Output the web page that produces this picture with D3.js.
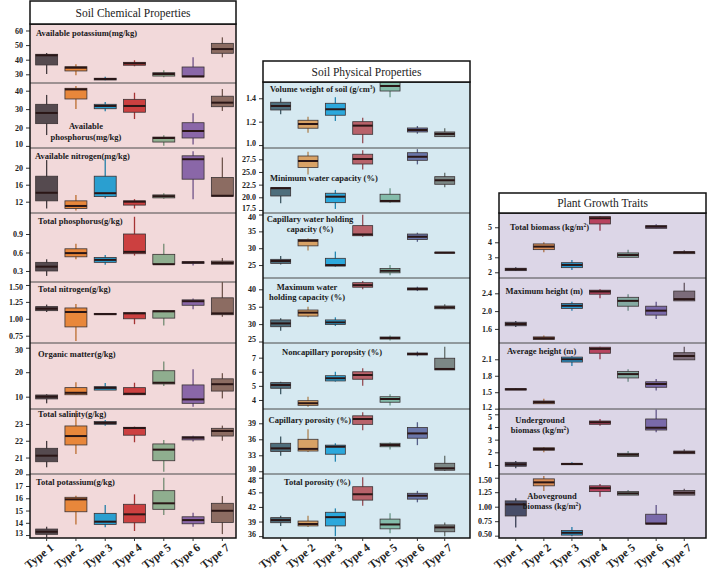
<!DOCTYPE html>
<html>
<head>
<meta charset="utf-8">
<script src="https://cdn.jsdelivr.net/npm/d3@7"></script>
<style>
body { margin: 0; background: #fff; }
svg { display: block; }
text { font-family: "Liberation Serif", "Times New Roman", serif; }
</style>
</head>
<body>
<div id="chart"></div>
<script>
const types = ["Type 1", "Type 2", "Type 3", "Type 4", "Type 5", "Type 6", "Type 7"];

// each entry: [whisker low, q1, median, q3, whisker high]
// soil chemical properties
const availableK = [[30.2,36.4,43.0,43.7,44.6],[29.3,32.3,34.5,35.2,36.8],[25.9,26.1,26.8,27.3,28.4],[35.5,36.2,37.5,38.2,39.6],[28.0,28.8,30.2,31.1,32.7],[28.2,28.2,28.6,35.0,41.6],[41.6,44.4,47.3,51.2,55.3]];
const availableP = [[15.9,22.1,27.9,32.6,37.7],[30.0,35.5,40.7,41.3,42.6],[28.8,30.2,31.7,32.6,33.9],[24.6,28.3,31.7,35.3,38.9],[10.1,12.1,14.3,14.8,15.8],[10.7,14.3,18.1,22.6,27.7],[29.0,31.3,33.5,37.0,40.9]];
const availableN = [[10.4,12.2,14.1,18.0,21.8],[9.9,10.4,11.0,12.2,13.6],[12.8,13.2,14.0,18.0,22.2],[10.4,11.2,12.0,12.2,12.6],[12.7,12.9,13.3,13.6,14.0],[12.6,17.3,22.0,22.8,23.9],[13.3,13.3,13.4,17.7,22.4]];
const totalP = [[0.22,0.30,0.37,0.44,0.49],[0.49,0.53,0.59,0.66,0.74],[0.40,0.44,0.48,0.52,0.56],[0.55,0.58,0.61,0.90,1.18],[0.41,0.41,0.41,0.57,0.74],[0.39,0.42,0.44,0.45,0.46],[0.41,0.41,0.43,0.46,0.51]];
const totalN = [[1.10,1.12,1.15,1.18,1.21],[0.67,0.88,1.10,1.16,1.22],[1.06,1.06,1.07,1.08,1.08],[0.92,1.00,1.08,1.09,1.10],[0.90,1.01,1.11,1.12,1.13],[1.14,1.20,1.26,1.28,1.30],[1.03,1.06,1.08,1.31,1.55]];
const organicMatter = [[7.3,9.1,10.0,10.7,11.0],[10.7,10.8,11.6,13.7,15.9],[12.7,12.7,13.6,14.1,15.6],[10.7,10.8,11.2,13.7,15.7],[14.4,15.2,15.7,20.6,24.4],[5.9,7.3,8.9,14.8,21.2],[9.3,12.3,15.1,17.3,19.6]];
const totalSalinity = [[20.42,20.75,21.11,21.55,21.99],[21.21,21.75,22.28,22.88,23.8],[22.9,22.98,23.06,23.14,23.24],[21.91,22.33,22.76,22.8,22.84],[20.16,20.81,21.47,21.81,22.05],[21.95,22.05,22.18,22.24,22.3],[22.0,22.28,22.58,22.74,22.9]];
const totalK = [[12.81,13.06,13.27,13.49,13.68],[13.87,14.9,15.91,16.08,16.21],[13.63,13.87,14.09,14.77,15.45],[13.33,14.0,14.69,15.51,16.32],[14.63,15.1,15.59,16.62,17.68],[13.68,13.92,14.22,14.49,14.82],[13.08,14.03,14.98,15.59,16.18]];

// soil physical properties
const volumeWeight = [[1.263,1.30,1.334,1.366,1.40],[1.106,1.144,1.18,1.212,1.243],[1.206,1.255,1.306,1.357,1.409],[1.015,1.092,1.166,1.20,1.234],[1.409,1.462,1.505,1.56,1.60],[1.097,1.112,1.129,1.146,1.163],[1.072,1.072,1.095,1.112,1.144]];
const minWater = [[18.8,20.26,21.8,21.9,21.9],[24.5,25.9,27.16,28.15,29.0],[17.7,18.94,20.12,20.8,21.45],[25.5,26.57,27.56,28.5,29.3],[18.94,19.08,19.28,20.6,21.8],[26.5,27.3,28.0,28.8,29.5],[21.98,22.57,23.36,24.07,24.86]];
const capWater = [[25.2,25.5,26.2,26.7,27.7],[29.3,30.7,32.2,32.6,32.9],[24.5,24.7,25.0,27.0,29.0],[33.4,33.7,34.1,36.7,39.9],[22.0,22.7,23.3,24.0,25.0],[31.9,32.6,33.4,34.2,34.6],[28.5,28.6,28.7,28.8,28.9]];
const maxWater = [[28.1,29.25,30.2,31.2,31.7],[31.95,32.3,33.3,34.05,35.0],[29.45,29.9,30.5,31.2,31.95],[40.0,40.6,41.2,41.9,42.4],[25.3,25.7,26.0,26.3,26.7],[39.5,39.8,40.1,40.4,40.75],[34.25,34.4,34.8,35.2,35.7]];
const noncapPorosity = [[4.4,4.83,5.06,5.23,5.3],[3.52,3.62,3.77,3.95,4.23],[5.3,5.35,5.54,5.72,6.0],[5.01,5.47,5.77,6.0,6.25],[3.6,3.84,4.07,4.23,4.4],[7.1,7.19,7.26,7.33,7.43],[6.13,6.13,6.2,6.96,7.78]];
const capPorosity = [[32.9,33.7,34.3,35.25,36.5],[33.6,33.8,34.2,36.0,37.9],[31.8,33.2,34.6,34.9,35.25],[37.7,38.8,39.8,40.4,41.06],[34.1,34.6,34.93,35.25,35.4],[34.9,36.2,37.1,38.2,39.2],[30.05,30.2,30.56,31.5,32.9]];
const totalPorosity = [[38.1,38.76,39.3,39.8,40.2],[37.9,38.1,38.5,39.1,40.2],[36.0,38.1,39.9,40.9,41.7],[42.25,43.4,44.6,46.15,48.1],[36.6,37.5,38.4,39.5,40.7],[42.95,43.6,44.3,44.8,45.3],[36.0,36.9,37.8,38.3,38.8]];

// plant growth traits
const totalBiomass = [[2.09,2.11,2.2,2.27,2.33],[3.33,3.51,3.71,3.89,4.0],[2.15,2.31,2.49,2.64,2.82],[4.77,5.22,5.6,5.71,5.75],[3.0,3.0,3.15,3.29,3.51],[4.93,4.93,5.04,5.11,5.2],[3.24,3.24,3.33,3.37,3.47]];
const maxHeight = [[1.64,1.67,1.71,1.75,1.78],[1.36,1.36,1.39,1.42,1.45],[2.01,2.06,2.12,2.17,2.21],[2.29,2.38,2.44,2.47,2.49],[2.01,2.11,2.23,2.31,2.38],[1.82,1.91,2.01,2.11,2.21],[2.23,2.23,2.27,2.45,2.64]];
const avgHeight = [[1.54,1.54,1.553,1.565,1.57],[1.29,1.29,1.32,1.34,1.38],[1.98,2.05,2.10,2.14,2.16],[2.10,2.21,2.29,2.32,2.33],[1.69,1.76,1.83,1.88,1.92],[1.53,1.59,1.65,1.69,1.74],[2.09,2.09,2.16,2.22,2.33]];
const undergroundBiomass = [[0.74,0.9,1.05,1.21,1.31],[2.0,2.16,2.26,2.36,2.42],[1.02,1.02,1.08,1.13,1.21],[4.1,4.21,4.37,4.47,4.63],[1.68,1.68,1.81,1.92,2.1],[3.58,3.76,3.94,4.63,5.38],[1.89,1.89,2.0,2.1,2.24]];
const abovegroundBiomass = [[0.64,0.84,1.04,1.10,1.145],[1.27,1.36,1.42,1.48,1.53],[0.49,0.51,0.55,0.59,0.65],[1.17,1.26,1.32,1.36,1.39],[1.20,1.20,1.23,1.26,1.29],[0.70,0.70,0.71,0.87,1.03],[1.20,1.20,1.24,1.28,1.31]];

const chemColors = ["#554a4f", "#e8873b", "#2a9fd0", "#cc4040", "#8fae8f", "#8a67a8", "#8c6c62"];
const physColors = ["#4e6e7c", "#d8a266", "#2ca8dc", "#b8626a", "#84bcaa", "#6a76aa", "#7c8886"];
const plantColors = ["#474d68", "#d88c56", "#2a9ad2", "#b84460", "#84aaa2", "#7a6aaa", "#7c6c7a"];

const width = 708, height = 573, bottom = 538;

const svg = d3.select("#chart").append("svg")
    .attr("width", width)
    .attr("height", height);

const panels = [
  { title: "Soil Chemical Properties", left: 30, right: 236, top: 1, head: 24, bg: "#f2d9da",
    colors: chemColors, xr: [32, 237], bw: 0.75,
    rows: [
      { data: availableK, y: [24, 83], dom: [24.04, 64.45], ticks: [30, 40, 50, 60], fmt: "d",
        label: [["Available potassium(mg/kg)", 36, 36, "start"]] },
      { data: availableP, y: [83, 148], dom: [8.86, 44.18], ticks: [10, 20, 30, 40], fmt: "d",
        label: [["Available", 86, 129, "middle"], ["phosphorus(mg/kg)", 86, 139.5, "middle"]] },
      { data: availableN, y: [148, 213], dom: [9.34, 24.64], ticks: [12, 16, 20], fmt: "d",
        label: [["Available nitrogen(mg/kg)", 35, 158.5, "start"]] },
      { data: totalP, y: [213, 282], dom: [0.121, 1.241], ticks: [0.3, 0.6, 0.9], fmt: ".1f",
        label: [["Total phosphorus(g/kg)", 38, 223.5, "start"]] },
      { data: totalN, y: [282, 343], dom: [0.642, 1.544], ticks: [0.75, 1.0, 1.25, 1.5], fmt: ".2f",
        label: [["Total nitrogen(g/kg)", 38, 292, "start"]] },
      { data: organicMatter, y: [343, 409], dom: [4.98, 31.92], ticks: [10, 20, 30], fmt: "d",
        label: [["Organic matter(g/kg)", 38, 357, "start"]] },
      { data: totalSalinity, y: [409, 474], dom: [20.02, 23.89], ticks: [20, 21, 22, 23], fmt: "d",
        label: [["Total salinity(g/kg)", 38, 417, "start"]] },
      { data: totalK, y: [474, 538], dom: [12.76, 17.98], ticks: [13, 14, 15, 16, 17], fmt: "d",
        label: [["Total potassium(g/kg)", 36, 484.5, "start"]] }
    ] },
  { title: "Soil Physical Properties", left: 263, right: 470, top: 61, head: 82, bg: "#d6e9f1",
    colors: physColors, xr: [267, 458.4], bw: 0.73,
    rows: [
      { data: volumeWeight, y: [82, 148], dom: [0.975, 1.539], ticks: [1.0, 1.2, 1.4], fmt: ".1f",
        label: [["Volume weight of soil (g/cm^3)", 270, 92, "start"]] },
      { data: minWater, y: [148, 213], dom: [16.9, 29.73], ticks: [17.5, 20, 22.5, 25, 27.5], fmt: ".1f",
        label: [["Minimum water capacity (%)", 270, 181, "start"]] },
      { data: capWater, y: [213, 278], dom: [21.16, 40.45], ticks: [25, 30, 35, 40], fmt: "d",
        label: [["Capillary water holding", 310, 222, "middle"], ["capacity (%)", 310, 232, "middle"]] },
      { data: maxWater, y: [278, 343], dom: [24.57, 43.25], ticks: [25, 30, 35, 40], fmt: "d",
        label: [["Maximum water", 307, 289.5, "middle"], ["holding capacity (%)", 307, 300, "middle"]] },
      { data: noncapPorosity, y: [343, 409], dom: [3.36, 8.04], ticks: [4, 5, 6, 7], fmt: "d",
        label: [["Noncapillary poropsity (%)", 282, 355, "start"]] },
      { data: capPorosity, y: [409, 474], dom: [29.49, 41.68], ticks: [30, 33, 36, 39], fmt: "d",
        label: [["Capillary porosity (%)", 268.5, 423, "start"]] },
      { data: totalPorosity, y: [474, 538], dom: [35.62, 48.76], ticks: [36, 39, 42, 45, 48], fmt: "d",
        label: [["Total porosity (%)", 284, 484.5, "start"]] }
    ] },
  { title: "Plant Growth Traits", left: 499, right: 706, top: 193, head: 213, bg: "#dcd6e7",
    colors: plantColors, xr: [501.7, 698.3], bw: 0.75,
    rows: [
      { data: totalBiomass, y: [213, 278], dom: [1.62, 5.95], ticks: [2, 3, 4, 5], fmt: "d",
        label: [["Total biomass (kg/m^2)", 510, 229.5, "start"]] },
      { data: maxHeight, y: [278, 343], dom: [1.283, 2.744], ticks: [1.6, 2.0, 2.4], fmt: ".1f",
        label: [["Maximum height (m)", 505.5, 294, "start"]] },
      { data: avgHeight, y: [343, 409], dom: [1.194, 2.397], ticks: [1.2, 1.5, 1.8, 2.1], fmt: ".1f",
        label: [["Average height (m)", 507, 353.5, "start"]] },
      { data: undergroundBiomass, y: [409, 474], dom: [0.288, 5.418], ticks: [1, 2, 3, 4, 5], fmt: "d",
        label: [["Underground", 540, 423, "middle"], ["biomass (kg/m^2)", 540, 433, "middle"]] },
      { data: abovegroundBiomass, y: [474, 538], dom: [0.46, 1.564], ticks: [0.5, 0.75, 1.0, 1.25, 1.5], fmt: ".2f",
        label: [["Aboveground", 552, 498.5, "middle"], ["biomass (kg/m^2)", 552, 508.5, "middle"]] }
    ] }
];

// text with a "^n" superscript
function labelText(sel, str) {
  const parts = str.split("^");
  sel.append("tspan").text(parts[0]);
  if (parts.length > 1) {
    sel.append("tspan").attr("dy", -3).attr("font-size", 5.5).text(parts[1][0]);
    sel.append("tspan").attr("dy", 3).text(parts[1].slice(1));
  }
}

panels.forEach((p, pi) => {
  const g = svg.append("g");
  const x = d3.scaleBand().domain(types).range(p.xr)
      .paddingInner(1 - p.bw).paddingOuter((1 - p.bw) / 2);
  const bw = x.bandwidth();

  g.append("rect")
      .attr("x", p.left).attr("y", p.head)
      .attr("width", p.right - p.left).attr("height", bottom - p.head)
      .attr("fill", p.bg);

  p.rows.forEach((r, ri) => {
    const y = d3.scaleLinear().domain(r.dom).range([r.y[1], r.y[0]]);
    const clipId = `clip-${pi}-${ri}`;
    g.append("clipPath").attr("id", clipId)
      .append("rect")
        .attr("x", p.left).attr("y", r.y[0])
        .attr("width", p.right - p.left).attr("height", r.y[1] - r.y[0]);

    const rg = g.append("g").attr("clip-path", `url(#${clipId})`);

    const boxes = rg.selectAll("g.box")
      .data(r.data)
      .join("g")
        .attr("class", "box")
        .attr("transform", (d, i) => `translate(${x(types[i])},0)`);

    boxes.append("line")
        .attr("x1", bw / 2).attr("x2", bw / 2)
        .attr("y1", d => y(d[0])).attr("y2", d => y(d[4]))
        .attr("stroke", (d, i) => d3.color(p.colors[i]).darker(0.6))
        .attr("stroke-width", 1.3);

    boxes.append("rect")
        .attr("x", 0).attr("width", bw)
        .attr("y", d => y(d[3]))
        .attr("height", d => Math.max(1, y(d[1]) - y(d[3])))
        .attr("fill", (d, i) => p.colors[i])
        .attr("stroke", "#3a3234")
        .attr("stroke-width", 0.8);

    boxes.append("line")
        .attr("x1", 0).attr("x2", bw)
        .attr("y1", d => y(d[2])).attr("y2", d => y(d[2]))
        .attr("stroke", "#2a1616")
        .attr("stroke-width", 2);

    const ax = g.append("g")
        .attr("transform", `translate(${p.left},0)`)
        .call(d3.axisLeft(y).tickValues(r.ticks).tickSize(4).tickPadding(3).tickFormat(d3.format(r.fmt)));
    ax.select(".domain").remove();
    ax.selectAll(".tick line").attr("stroke", "#333");
    ax.selectAll(".tick text")
        .attr("font-family", "'Liberation Serif', serif")
        .attr("font-weight", "bold")
        .attr("font-size", 8)
        .attr("fill", "#222")
        // nudge labels that sit on a row edge back inside it
        .attr("dy", d => {
          const py = y(d);
          if (py - r.y[0] < 6) return "0.62em";
          if (r.y[1] - py < 4) return "0.05em";
          return "0.32em";
        });

    r.label.forEach(([t, lx, ly, anchor]) => {
      g.append("text")
          .attr("x", lx).attr("y", ly)
          .attr("text-anchor", anchor)
          .attr("font-weight", "bold")
          .attr("font-size", 8.5)
          .attr("fill", "#1a1a1a")
          .call(labelText, t);
    });

    if (ri < p.rows.length - 1) {
      g.append("line")
          .attr("x1", p.left).attr("x2", p.right)
          .attr("y1", r.y[1]).attr("y2", r.y[1])
          .attr("stroke", "#4a4a4a")
          .attr("stroke-width", 1);
    }
  });

  // frame
  g.append("rect")
      .attr("x", p.left).attr("y", p.head)
      .attr("width", p.right - p.left).attr("height", bottom - p.head)
      .attr("fill", "none")
      .attr("stroke", "#111")
      .attr("stroke-width", 1.5);

  // title box
  g.append("rect")
      .attr("x", p.left).attr("y", p.top)
      .attr("width", p.right - p.left).attr("height", p.head - p.top)
      .attr("fill", "#fff")
      .attr("stroke", "#111")
      .attr("stroke-width", 1.5);
  g.append("text")
      .attr("x", (p.left + p.right) / 2)
      .attr("y", (p.top + p.head) / 2 + 4)
      .attr("text-anchor", "middle")
      .attr("font-size", 11.5)
      .attr("fill", "#222")
      .text(p.title);

  // x axis
  const xa = g.append("g")
      .attr("transform", `translate(0,${bottom})`)
      .call(d3.axisBottom(x).tickSize(3).tickPadding(2));
  xa.select(".domain").remove();
  xa.selectAll(".tick line").attr("stroke", "#333");
  xa.selectAll(".tick text")
      .attr("font-family", "'Liberation Serif', serif")
      .attr("font-weight", "bold")
      .attr("font-size", 11.5)
      .attr("fill", "#222")
      .attr("text-anchor", "end")
      .attr("dy", null)
      .attr("y", null)
      .attr("transform", "translate(8,11) rotate(-38)");
});
</script>
</body>
</html>
